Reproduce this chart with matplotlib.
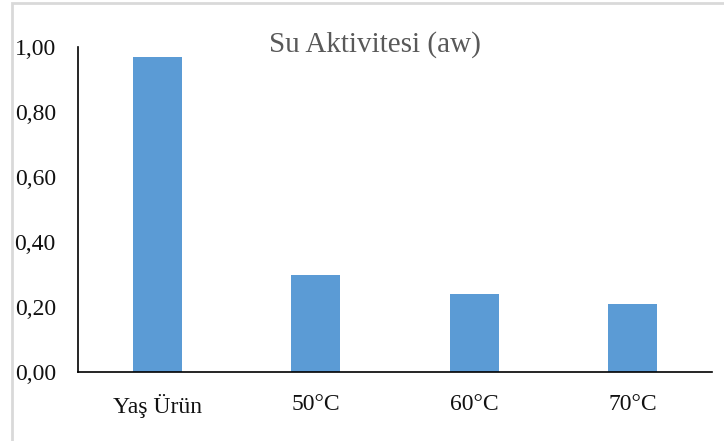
import matplotlib
matplotlib.use("Agg")
import matplotlib.pyplot as plt
from matplotlib.patches import Rectangle

categories = ["Yaş Ürün", "50°C", "60°C", "70°C"]
values = [0.97, 0.30, 0.24, 0.21]
yticks = [0.0, 0.2, 0.4, 0.6, 0.8, 1.0]
ytick_labels = ["0,00", "0,20", "0,40", "0,60", "0,80", "1,00"]
title = "Su Aktivitesi (aw)"

W, H = 724, 441
fig = plt.figure(figsize=(W / 100, H / 100), dpi=100)
fig.patch.set_facecolor("white")

# chart frame (only top and left edges visible)
fig.patches.append(Rectangle((12 / W, -0.1), 1.2, (H - 3) / H + 0.1,
                             transform=fig.transFigure, fill=False,
                             edgecolor="#d9d9d9", linewidth=2))

ax = fig.add_axes([78 / W, 1 - 372 / H, (712 - 78) / W, (372 - 47) / H])
x = range(len(categories))
ax.bar(x, values, width=0.31, color="#5b9bd5", zorder=2)
ax.set_xlim(-0.5, len(categories) - 0.5)
ax.set_ylim(0, 1.0)
ax.set_yticks(yticks)
ax.set_yticklabels(ytick_labels)
ax.set_xticks(list(x))
ax.set_xticklabels(categories)

for s in ["top", "right"]:
    ax.spines[s].set_visible(False)
ax.spines["left"].set_color("black")
ax.spines["bottom"].set_color("black")
ax.spines["left"].set_linewidth(1.2)
ax.spines["bottom"].set_linewidth(1.2)

ax.tick_params(axis="both", length=0)
ax.tick_params(axis="y", pad=16)
ax.tick_params(axis="x", pad=16)
for lab in ax.get_xticklabels() + ax.get_yticklabels():
    lab.set_fontfamily("Liberation Serif")
    lab.set_fontsize(17)
    lab.set_color("#111111")

fig.text(375 / W, 1 - 45 / H, title, ha="center", va="center",
         fontfamily="Liberation Serif", fontsize=21, color="#595959")

fig.savefig("out.png", dpi=100, facecolor="white")
